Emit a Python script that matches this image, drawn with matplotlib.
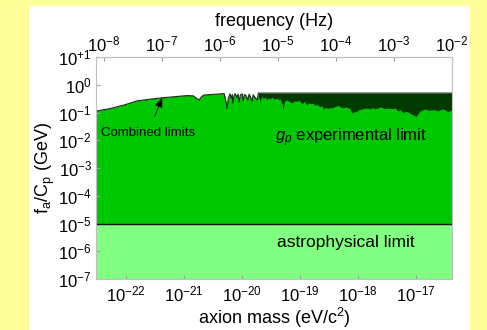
import numpy as np
import matplotlib
matplotlib.use("Agg")
import matplotlib.pyplot as plt
from matplotlib.patches import Rectangle

plt.rcParams['font.family'] = ['Liberation Sans', 'DejaVu Sans']
plt.rcParams['mathtext.fontset'] = 'custom'
plt.rcParams['mathtext.rm'] = 'Liberation Sans'
plt.rcParams['mathtext.it'] = 'Liberation Sans:italic'

# combined experimental limit on f_a/C_p, log10 of mass (eV) and log10 of limit (GeV)
log_mass = [
    -22.52, -22.28, -22.02, -21.81, -21.59, -21.38, -21.16, -20.95, -20.84, -20.78,
    -20.74, -20.71, -20.66, -20.52, -20.38, -20.31, -20.28, -20.26, -20.24, -20.21,
    -20.19, -20.17, -20.16, -20.14, -20.12, -20.09, -20.07, -20.05, -20.03, -20.00,
    -19.98, -19.96, -19.93, -19.90, -19.88, -19.86, -19.83, -19.81, -19.78, -19.74,
    -19.72, -19.69, -19.66, -19.64, -19.60, -19.57, -19.55, -19.52, -19.48, -19.45,
    -19.40, -19.37, -19.34, -19.31, -19.29, -19.27, -19.24, -19.20, -19.17, -19.14,
    -19.10, -19.05, -19.02, -19.00, -18.96, -18.93, -18.88, -18.85, -18.81, -18.78,
    -18.74, -18.71, -18.66, -18.62, -18.60, -18.57, -18.52, -18.48, -18.45, -18.40,
    -18.34, -18.30, -18.26, -18.22, -18.17, -18.14, -18.10, -18.07, -18.02, -17.98,
    -17.93, -17.88, -17.83, -17.79, -17.75, -17.71, -17.66, -17.62, -17.59, -17.54,
    -17.48, -17.42, -17.36, -17.31, -17.27, -17.22, -17.18, -17.14, -17.10, -17.05,
    -17.00, -16.97, -16.93, -16.88, -16.84, -16.79, -16.74, -16.68, -16.62, -16.58,
    -16.53, -16.49, -16.45, -16.41, -16.38,
]
log_limit = [
    -0.95, -0.86, -0.72, -0.58, -0.52, -0.47, -0.43, -0.39, -0.40, -0.50,
    -0.55, -0.45, -0.37, -0.35, -0.33, -0.32, -0.60, -0.85, -0.50, -0.33,
    -0.48, -0.35, -0.66, -0.40, -0.32, -0.45, -0.34, -0.62, -0.36, -0.33,
    -0.58, -0.35, -0.40, -0.55, -0.34, -0.42, -0.60, -0.36, -0.45, -0.55,
    -0.38, -0.62, -0.40, -0.50, -0.45, -0.55, -0.48, -0.50, -0.45, -0.52,
    -0.48, -0.55, -0.52, -0.70, -0.91, -0.60, -0.55, -0.58, -0.62, -0.66,
    -0.58, -0.60, -0.55, -0.62, -0.68, -0.60, -0.73, -0.65, -0.68, -0.66,
    -0.75, -0.70, -0.80, -0.75, -0.91, -0.82, -0.85, -0.82, -0.84, -0.78,
    -0.75, -0.80, -0.84, -0.80, -0.82, -0.88, -1.02, -0.98, -0.95, -0.90,
    -0.87, -0.85, -0.84, -0.88, -0.82, -0.87, -0.84, -0.80, -0.82, -0.86,
    -0.84, -0.86, -0.84, -0.95, -0.90, -1.02, -0.96, -0.98, -1.04, -1.09,
    -1.15, -1.05, -0.95, -0.90, -0.87, -0.92, -0.91, -0.90, -0.95, -0.90,
    -0.87, -0.92, -0.98, -0.92, -0.93,
]
# best single-experiment sensitivity floor (GeV) and where it takes over
sens_floor = 0.5
floor_onset = 10**-19.72
# astrophysical bound (GeV)
astro_limit = 1e-5

y_ticks = [1e-7, 1e-6, 1e-5, 1e-4, 1e-3, 1e-2, 1e-1, 1e0, 1e1]
y_tick_labels = [r'$10^{-7}$', r'$10^{-6}$', r'$10^{-5}$', r'$10^{-4}$', r'$10^{-3}$',
                 r'$10^{-2}$', r'$10^{-1}$', r'$10^{0}$', r'$10^{+1}$']
mass_ticks = [1e-22, 1e-21, 1e-20, 1e-19, 1e-18, 1e-17]
freq_ticks = [1e-8, 1e-7, 1e-6, 1e-5, 1e-4, 1e-3, 1e-2]

EV_TO_HZ = 2.418e14  # m c^2 / h

mass = 10**np.array(log_mass)
limit = 10**np.array(log_limit)
envelope = np.where(mass < floor_onset, limit, np.maximum(limit, sens_floor))

bg = '#ffff99'
fig = plt.figure(figsize=(4.87, 3.3), dpi=100, facecolor=bg)
fig.patches.append(Rectangle((29/487, 0), 441/487, 324/330, transform=fig.transFigure,
                             facecolor='white', edgecolor='none', zorder=-10))

ax = fig.add_axes([96/487, 51/330, 356/487, 222/330])
ax.set_xscale('log')
ax.set_yscale('log')
xmin, xmax = mass[0], mass[-1]
ax.set_xlim(xmin, xmax)
ax.set_ylim(1e-7, 1e1)

ax.fill_between([xmin, xmax], 1e-7, astro_limit, color='#80ff80', lw=0)
ax.fill_between(mass, astro_limit, envelope, color='#003a00', lw=0)
ax.fill_between(mass, astro_limit, limit, color='#00c800', lw=0)
ax.plot(mass, envelope, color='#1a2a1a', lw=0.8)
ax.axhline(astro_limit, color='#0a0a0a', lw=1.0)

ax.set_yticks(y_ticks)
ax.set_yticklabels(y_tick_labels)
ax.set_xticks(mass_ticks)
ax.minorticks_off()
ax.tick_params(direction='in', length=3, color='#a0a0a0', labelsize=12, pad=3)
ax.tick_params(axis='x', pad=4)
for s in ax.spines.values():
    s.set_color('#c0c0c0')

top = ax.secondary_xaxis('top', functions=(lambda m: m * EV_TO_HZ, lambda f: f / EV_TO_HZ))
top.set_xticks(freq_ticks)
top.minorticks_off()
top.tick_params(direction='in', length=3, color='#a0a0a0', labelsize=12, pad=2)
top.spines['top'].set_color('#c0c0c0')
top.set_xlabel('frequency (Hz)', fontsize=13, labelpad=6)

ax.set_xlabel(r'axion mass (eV/c$^2$)', fontsize=13, labelpad=1)
ax.set_ylabel(r'f$_\mathrm{a}$/C$_\mathrm{p}$ (GeV)', fontsize=13, labelpad=1)

ax.annotate('Combined limits', xy=(10**-21.38, 10**-0.47), xytext=(10**-21.62, 10**-1.74),
            fontsize=9.5, ha='center', va='center',
            arrowprops=dict(arrowstyle='-|>,head_length=0.6,head_width=0.25',
                            color='black', lw=0.6, shrinkA=6, shrinkB=0))
ax.text(10**-18.12, 10**-1.92, r'$g_p$ experimental limit', fontsize=12,
        ha='center', va='center')
ax.text(10**-18.22, 10**-5.70, 'astrophysical limit', fontsize=12.5,
        ha='center', va='center')

fig.savefig('out.png', dpi=100, facecolor=bg)
